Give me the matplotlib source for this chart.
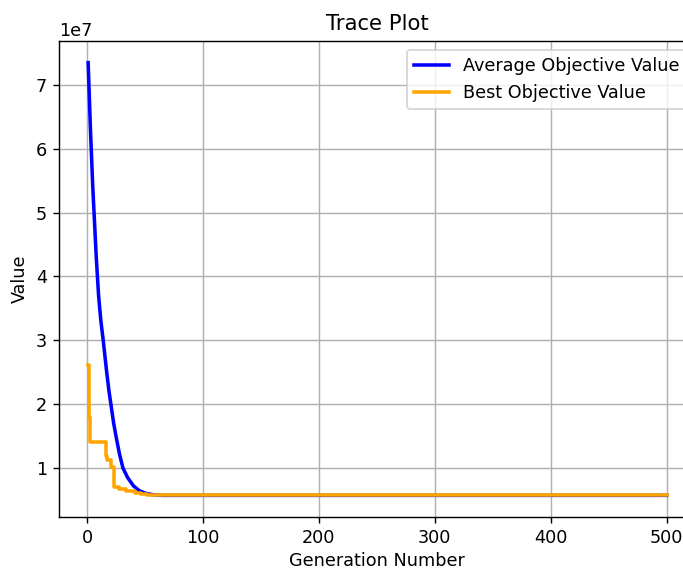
import numpy as np
import matplotlib
matplotlib.use("Agg")
import matplotlib.pyplot as plt

# average objective value, read at a few generations (rest stays flat)
avg_gen = [1, 3, 5, 8, 10, 12, 14, 17, 19, 21, 23, 25, 28, 31, 35, 40, 45, 50, 55, 60, 65, 70, 500]
avg_val = [7.35e7, 6.3e7, 5.4e7, 4.3e7, 3.7e7, 3.3e7, 3.0e7, 2.5e7, 2.2e7, 1.95e7, 1.7e7, 1.5e7,
           1.22e7, 1.0e7, 0.85e7, 0.72e7, 0.645e7, 0.605e7, 0.585e7, 0.575e7, 0.57e7, 0.57e7, 0.57e7]

# best objective value (step changes)
best_gen = [1, 2, 3, 16, 17, 18, 21, 23, 28, 34, 41, 47, 52, 500]
best_val = [2.62e7, 1.79e7, 1.40e7, 1.18e7, 1.13e7, 1.13e7, 1.02e7, 0.70e7, 0.67e7, 0.64e7,
            0.61e7, 0.59e7, 0.57e7, 0.57e7]

dpi = 127
fig = plt.figure(figsize=(683 / dpi, 570 / dpi), dpi=dpi)
ax = fig.add_axes([0.0867, 0.093, 0.9318, 0.835])

ax.plot(avg_gen, avg_val, color='blue', linewidth=2, label='Average Objective Value')
ax.plot(best_gen, best_val, color='orange', linewidth=2, drawstyle='steps-post',
        label='Best Objective Value')

ax.set_title("Trace Plot")
ax.set_xlabel("Generation Number", labelpad=2.5)
ax.set_ylabel("Value")
ax.set_xticks([0, 100, 200, 300, 400, 500])
ax.grid(True)
ax.legend(loc='upper right')

fig.savefig("out.png", dpi=dpi)
